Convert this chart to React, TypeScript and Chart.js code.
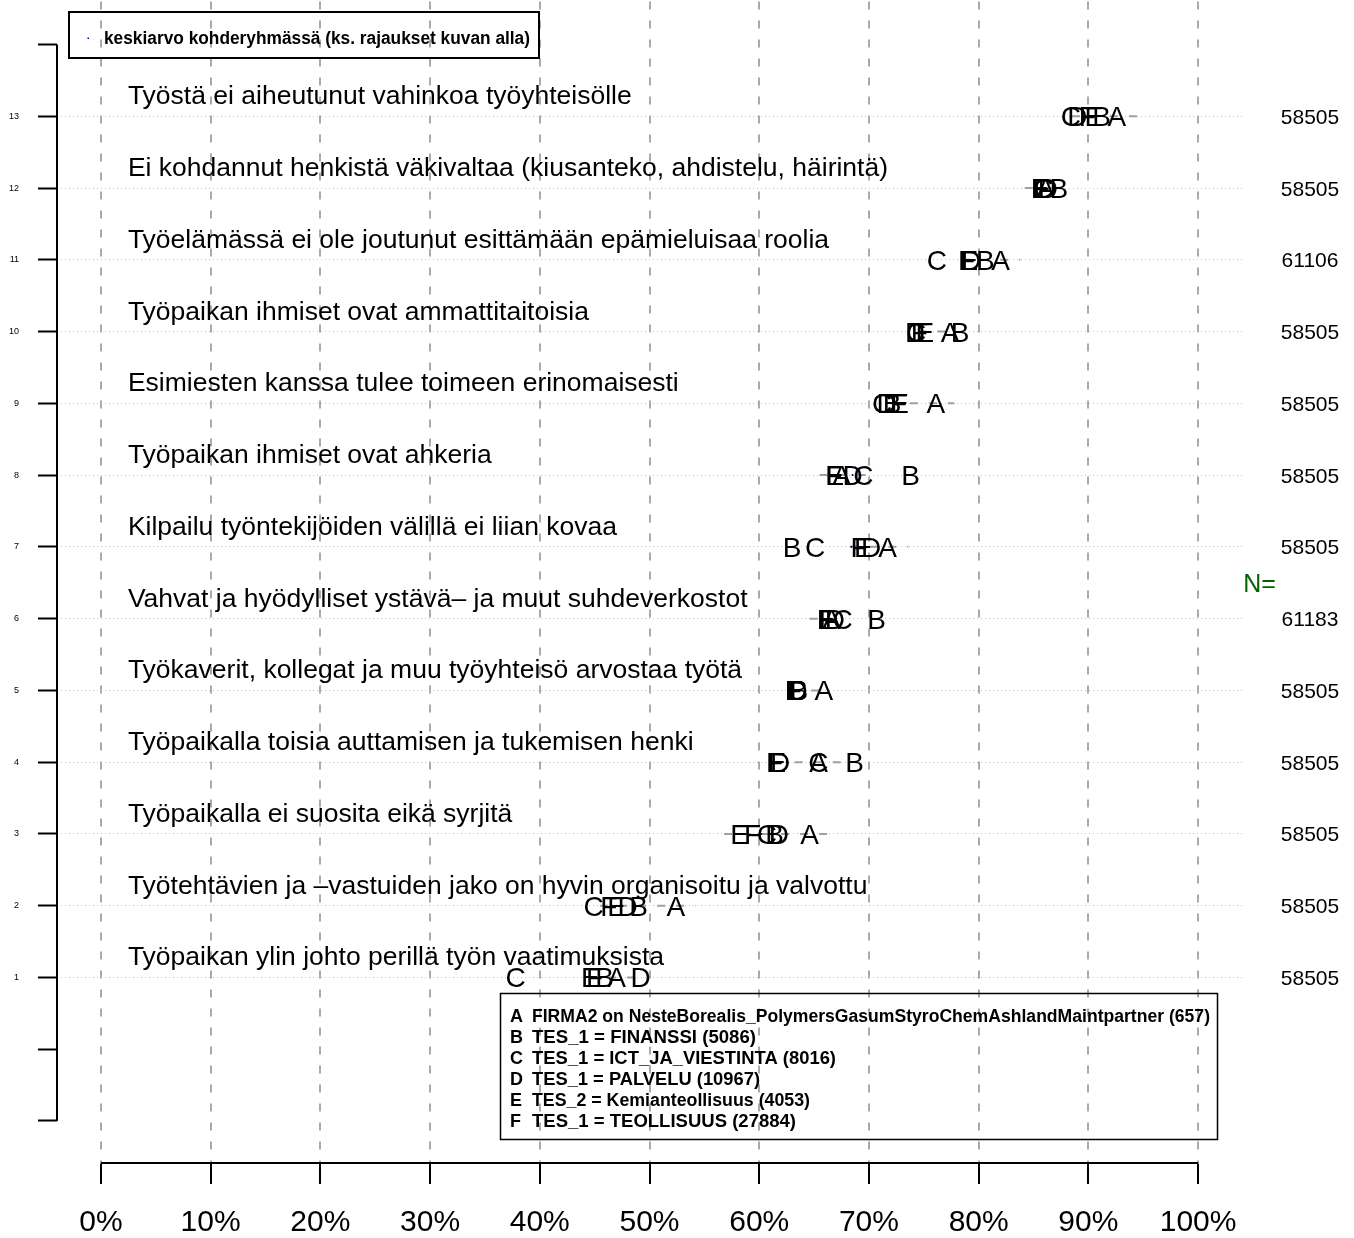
import React, { useEffect, useRef } from 'react';
import { Chart, registerables } from 'chart.js';
Chart.register(...registerables);

// ---------- data ----------
const rows = [1, 2, 3, 4, 5, 6, 7, 8, 9, 10, 11, 12, 13];
const rowLabels = [
  'Työpaikan ylin johto perillä työn vaatimuksista',
  'Työtehtävien ja –vastuiden jako on hyvin organisoitu ja valvottu',
  'Työpaikalla ei suosita eikä syrjitä',
  'Työpaikalla toisia auttamisen ja tukemisen henki',
  'Työkaverit, kollegat ja muu työyhteisö arvostaa työtä',
  'Vahvat ja hyödylliset ystävä– ja muut suhdeverkostot',
  'Kilpailu työntekijöiden välillä ei liian kovaa',
  'Työpaikan ihmiset ovat ahkeria',
  'Esimiesten kanssa tulee toimeen erinomaisesti',
  'Työpaikan ihmiset ovat ammattitaitoisia',
  'Työelämässä ei ole joutunut esittämään epämieluisaa roolia',
  'Ei kohdannut henkistä väkivaltaa (kiusanteko, ahdistelu, häirintä)',
  'Työstä ei aiheutunut vahinkoa työyhteisölle',
];
const nValues = ['58505', '58505', '58505', '58505', '58505', '61183', '58505', '58505', '58505', '58505', '61106', '58505', '58505'];

const groupLetters = ['A', 'B', 'C', 'D', 'E', 'F'];
const groupA = [47.0, 52.4, 64.6, 65.4, 65.9, 66.6, 71.7, 67.5, 76.1, 77.4, 82.0, 86.1, 92.6];
const groupB = [45.9, 49.0, 61.4, 68.7, 63.6, 70.7, 63.0, 73.8, 72.1, 78.3, 80.6, 87.3, 91.2];
const groupC = [37.8, 44.9, 60.7, 65.4, 63.4, 67.6, 65.1, 69.5, 71.2, 74.3, 76.2, 85.9, 88.4];
const groupD = [49.2, 48.0, 61.8, 61.9, 63.5, 66.9, 70.2, 68.5, 71.6, 74.2, 79.3, 86.3, 89.0];
const groupE = [44.6, 47.0, 58.2, 61.6, 63.2, 66.1, 69.5, 66.9, 72.8, 75.1, 79.1, 85.6, 90.5];
const groupF = [45.0, 46.3, 59.4, 61.4, 63.1, 66.2, 69.1, 66.8, 72.7, 74.6, 78.9, 85.7, 89.9];
const groupValues = [groupA, groupB, groupC, groupD, groupE, groupF];
const targetMean = [45.5, 47.0, 60.2, 62.5, 63.5, 66.5, 68.4, 68.5, 72.0, 74.8, 78.8, 85.9, 89.8];
// dashed gray interval per row (low / high end, %)
const rangeLow = [44.5, 45.5, 56.8, 61.5, 63.0, 64.6, 68.3, 65.5, 72.0, 74.5, 78.5, 84.2, 88.5];
const rangeHigh = [49.0, 54.2, 66.5, 68.0, 66.0, 68.0, 73.6, 70.0, 77.8, 78.0, 83.8, 87.0, 94.5];

const xTicks = [0, 10, 20, 30, 40, 50, 60, 70, 80, 90, 100];
const yTicks = [-1, 0, 1, 2, 3, 4, 5, 6, 7, 8, 9, 10, 11, 12, 13, 14];

const topLegendText = 'keskiarvo kohderyhmässä (ks. rajaukset kuvan alla)';
const groupDescriptions = [
  'FIRMA2 on NesteBorealis_PolymersGasumStyroChemAshlandMaintpartner (657)',
  'TES_1 = FINANSSI (5086)',
  'TES_1 = ICT_JA_VIESTINTA (8016)',
  'TES_1 = PALVELU (10967)',
  'TES_2 = Kemianteollisuus (4053)',
  'TES_1 = TEOLLISUUS (27884)',
];
const groupDescWidths = [678, 224, 304, 228, 278, 264];

const FONT = '"Liberation Sans", Arial, Helvetica, sans-serif';

function fitText(ctx: CanvasRenderingContext2D, text: string, x: number, y: number, w: number) {
  const m = ctx.measureText(text).width;
  ctx.save();
  ctx.translate(x, y);
  ctx.scale(w / m, 1);
  ctx.fillText(text, 0, 0);
  ctx.restore();
}

const overlayPlugin = {
  id: 'overlay',
  afterDatasetsDraw(chart: any) {
    const ctx: CanvasRenderingContext2D = chart.ctx;
    const xs = chart.scales.x;
    const ys = chart.scales.y;
    ctx.save();
    // letters
    ctx.fillStyle = '#000';
    ctx.font = `28px ${FONT}`;
    ctx.textAlign = 'center';
    ctx.textBaseline = 'alphabetic';
    chart.data.datasets.forEach((ds: any, i: number) => {
      if (!ds.letter) return;
      const meta = chart.getDatasetMeta(i);
      meta.data.forEach((el: any) => {
        ctx.fillText(ds.letter, el.x, el.y + 10);
      });
    });
    // row labels
    ctx.textAlign = 'left';
    ctx.font = `26.5px ${FONT}`;
    rows.forEach((r, i) => {
      ctx.fillText(rowLabels[i], xs.getPixelForValue(0) + 27, ys.getPixelForValue(r) - 12);
    });
    // N values
    ctx.textAlign = 'center';
    ctx.font = `21px ${FONT}`;
    rows.forEach((r, i) => {
      ctx.fillText(nValues[i], xs.getPixelForValue(110.2), ys.getPixelForValue(r) + 7.5);
    });
    ctx.fillStyle = '#006400';
    ctx.font = `25px ${FONT}`;
    ctx.fillText('N=', xs.getPixelForValue(105.6), ys.getPixelForValue(6.5) + 9);
    ctx.restore();
  },
  afterDraw(chart: any) {
    const ctx: CanvasRenderingContext2D = chart.ctx;
    const xs = chart.scales.x;
    const ys = chart.scales.y;
    const area = chart.chartArea;
    ctx.save();
    ctx.strokeStyle = '#000';
    ctx.lineWidth = 2;
    ctx.setLineDash([]);
    // x axis line
    ctx.beginPath();
    ctx.moveTo(xs.getPixelForValue(0), area.bottom - 1);
    ctx.lineTo(xs.getPixelForValue(100), area.bottom - 1);
    ctx.stroke();
    // y axis line
    ctx.beginPath();
    ctx.moveTo(area.left, ys.getPixelForValue(-1));
    ctx.lineTo(area.left, ys.getPixelForValue(14));
    ctx.stroke();

    // top legend
    ctx.lineWidth = 2;
    ctx.strokeRect(69, 12, 470, 46);
    ctx.fillStyle = '#00008b';
    ctx.fillRect(87.5, 37.5, 1.5, 1.5);
    ctx.fillStyle = '#000';
    ctx.font = `bold 18px ${FONT}`;
    ctx.textAlign = 'left';
    ctx.textBaseline = 'alphabetic';
    fitText(ctx, topLegendText, 104, 44, 426);

    // bottom legend
    ctx.lineWidth = 1.5;
    ctx.strokeRect(500.5, 993.5, 717, 146);
    groupLetters.forEach((g, i) => {
      const y = 1021.5 + i * 21;
      ctx.fillText(g, 510, y);
      fitText(ctx, groupDescriptions[i], 532, y, groupDescWidths[i]);
    });
    ctx.restore();
  },
};

export default function App() {
  const ref = useRef<HTMLCanvasElement>(null);
  useEffect(() => {
    document.body.style.margin = '0';
    const canvas = ref.current;
    if (!canvas) return;
    const datasets: any[] = [];
    groupLetters.forEach((g, gi) => {
      datasets.push({
        label: g,
        letter: g,
        data: rows.map((r, i) => ({ x: groupValues[gi][i], y: r })),
        pointRadius: 0,
        pointHoverRadius: 0,
        showLine: false,
      });
    });
    datasets.push({
      label: 'mean',
      data: rows.map((r, i) => ({ x: targetMean[i], y: r })),
      pointRadius: 1,
      pointBackgroundColor: '#00008b',
      pointBorderWidth: 0,
      showLine: false,
    });
    rows.forEach((r, i) => {
      datasets.push({
        label: 'range' + r,
        data: [
          { x: rangeLow[i], y: r },
          { x: rangeHigh[i], y: r },
        ],
        showLine: true,
        borderColor: '#a0a0a0',
        borderWidth: 2,
        borderDash: [8, 11],
        pointRadius: 0,
        pointHoverRadius: 0,
      });
    });

    const chart = new Chart(canvas, {
      type: 'scatter',
      data: { datasets },
      options: {
        animation: false,
        responsive: false,
        devicePixelRatio: 1,
        events: [],
        layout: { autoPadding: false, padding: { left: 0, top: 1.5, right: 112, bottom: 0 } },
        plugins: { legend: { display: false }, tooltip: { enabled: false } },
        scales: {
          x: {
            type: 'linear',
            min: -4,
            max: 104,
            position: 'bottom',
            afterBuildTicks: (s: any) => {
              s.ticks = xTicks.map((v) => ({ value: v }));
            },
            afterFit: (s: any) => {
              s.height = 74;
              s.paddingLeft = 0;
              s.paddingRight = 0;
            },
            grid: {
              color: '#aaaaaa',
              lineWidth: 2,
              drawTicks: true,
              tickLength: 20,
              tickColor: '#000',
              tickWidth: 2,
              tickBorderDash: [],
            },
            border: { display: false, dash: [8, 11] },
            ticks: {
              callback: (v: any) => v + '%',
              font: { size: 30, family: FONT },
              color: '#000',
              padding: 21,
              maxRotation: 0,
              autoSkip: false,
            },
          },
          y: {
            type: 'linear',
            min: -1.6,
            max: 14.6,
            position: 'left',
            afterBuildTicks: (s: any) => {
              s.ticks = yTicks.map((v) => ({ value: v }));
            },
            afterFit: (s: any) => {
              s.width = 57;
              s.paddingTop = 0;
              s.paddingBottom = 0;
            },
            grid: {
              color: (c: any) =>
                c.tick && c.tick.value >= 1 && c.tick.value <= 13 ? '#c4c4c4' : 'rgba(0,0,0,0)',
              lineWidth: 1,
              drawTicks: true,
              tickLength: 19,
              tickColor: '#000',
              tickWidth: 2,
              tickBorderDash: [],
            },
            border: { display: false, dash: [1, 3] },
            ticks: {
              callback: (v: any) => (v >= 1 && v <= 13 ? String(v) : ''),
              font: { size: 9, family: FONT },
              color: '#000',
              padding: 19,
              autoSkip: false,
            },
          },
        },
      },
      plugins: [overlayPlugin],
    } as any);
    return () => chart.destroy();
  }, []);
  return (
    <div style={{ position: 'absolute', left: 0, top: 0 }}>
      <canvas ref={ref} width={1354} height={1238} style={{ display: 'block' }} />
    </div>
  );
}
